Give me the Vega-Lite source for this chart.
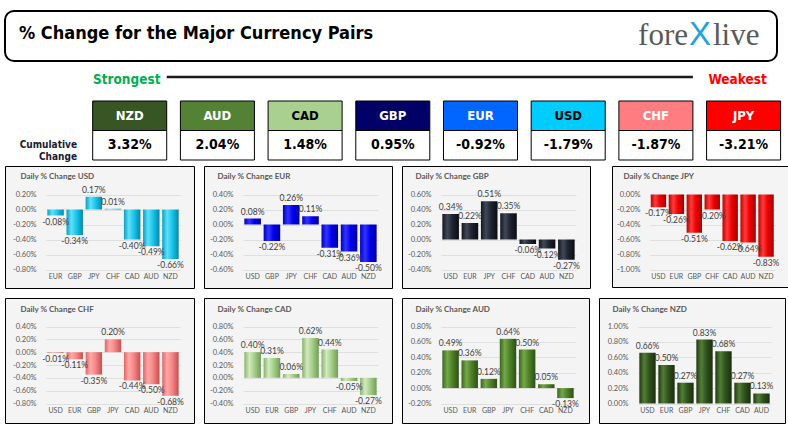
{
  "$schema": "https://vega.github.io/schema/vega-lite/v6.json",
  "background": "white",
  "padding": {"left": 4, "top": 10, "right": 2, "bottom": 2},
  "config": {
    "view": {"stroke": null},
    "locale": {"number": {"decimal": ".", "thousands": ",", "grouping": [3], "currency": ["$", ""], "minus": "-"}},
    "axis": {"labelFont": "Lato", "labelColor": "#595959", "labelFontSize": 7.5, "gridColor": "#d9d9d9", "gridWidth": 0.8, "domain": false, "ticks": false, "titleFont": "Lato", "titleFontSize": 8, "titleFontWeight": "bold", "titleColor": "#595959"}
  },
  "datasets": {
    "cum": [
      {"cur": "NZD", "v": 0.0332},
      {"cur": "AUD", "v": 0.0204},
      {"cur": "CAD", "v": 0.0148},
      {"cur": "GBP", "v": 0.0095},
      {"cur": "EUR", "v": -0.0092},
      {"cur": "USD", "v": -0.0179},
      {"cur": "CHF", "v": -0.0187},
      {"cur": "JPY", "v": -0.0321}
    ],
    "daily": [
      {"base": "USD", "cur": "EUR", "v": -0.0008},
      {"base": "USD", "cur": "GBP", "v": -0.0034},
      {"base": "USD", "cur": "JPY", "v": 0.0017},
      {"base": "USD", "cur": "CHF", "v": 0.0001},
      {"base": "USD", "cur": "CAD", "v": -0.0040},
      {"base": "USD", "cur": "AUD", "v": -0.0049},
      {"base": "USD", "cur": "NZD", "v": -0.0066},
      {"base": "EUR", "cur": "USD", "v": 0.0008},
      {"base": "EUR", "cur": "GBP", "v": -0.0022},
      {"base": "EUR", "cur": "JPY", "v": 0.0026},
      {"base": "EUR", "cur": "CHF", "v": 0.0011},
      {"base": "EUR", "cur": "CAD", "v": -0.0031},
      {"base": "EUR", "cur": "AUD", "v": -0.0036},
      {"base": "EUR", "cur": "NZD", "v": -0.0050},
      {"base": "GBP", "cur": "USD", "v": 0.0034},
      {"base": "GBP", "cur": "EUR", "v": 0.0022},
      {"base": "GBP", "cur": "JPY", "v": 0.0051},
      {"base": "GBP", "cur": "CHF", "v": 0.0035},
      {"base": "GBP", "cur": "CAD", "v": -0.0006},
      {"base": "GBP", "cur": "AUD", "v": -0.0012},
      {"base": "GBP", "cur": "NZD", "v": -0.0027},
      {"base": "JPY", "cur": "USD", "v": -0.0017},
      {"base": "JPY", "cur": "EUR", "v": -0.0026},
      {"base": "JPY", "cur": "GBP", "v": -0.0051},
      {"base": "JPY", "cur": "CHF", "v": -0.0020},
      {"base": "JPY", "cur": "CAD", "v": -0.0062},
      {"base": "JPY", "cur": "AUD", "v": -0.0064},
      {"base": "JPY", "cur": "NZD", "v": -0.0083},
      {"base": "CHF", "cur": "USD", "v": -0.0001},
      {"base": "CHF", "cur": "EUR", "v": -0.0011},
      {"base": "CHF", "cur": "GBP", "v": -0.0035},
      {"base": "CHF", "cur": "JPY", "v": 0.0020},
      {"base": "CHF", "cur": "CAD", "v": -0.0044},
      {"base": "CHF", "cur": "AUD", "v": -0.0050},
      {"base": "CHF", "cur": "NZD", "v": -0.0068},
      {"base": "CAD", "cur": "USD", "v": 0.0040},
      {"base": "CAD", "cur": "EUR", "v": 0.0031},
      {"base": "CAD", "cur": "GBP", "v": 0.0006},
      {"base": "CAD", "cur": "JPY", "v": 0.0062},
      {"base": "CAD", "cur": "CHF", "v": 0.0044},
      {"base": "CAD", "cur": "AUD", "v": -0.0005},
      {"base": "CAD", "cur": "NZD", "v": -0.0027},
      {"base": "AUD", "cur": "USD", "v": 0.0049},
      {"base": "AUD", "cur": "EUR", "v": 0.0036},
      {"base": "AUD", "cur": "GBP", "v": 0.0012},
      {"base": "AUD", "cur": "JPY", "v": 0.0064},
      {"base": "AUD", "cur": "CHF", "v": 0.0050},
      {"base": "AUD", "cur": "CAD", "v": 0.0005},
      {"base": "AUD", "cur": "NZD", "v": -0.0013},
      {"base": "NZD", "cur": "USD", "v": 0.0066},
      {"base": "NZD", "cur": "EUR", "v": 0.0050},
      {"base": "NZD", "cur": "GBP", "v": 0.0027},
      {"base": "NZD", "cur": "JPY", "v": 0.0083},
      {"base": "NZD", "cur": "CHF", "v": 0.0068},
      {"base": "NZD", "cur": "CAD", "v": 0.0027},
      {"base": "NZD", "cur": "AUD", "v": 0.0013}
    ]
  },
  "spacing": 6,
  "resolve": {"scale": {"x": "independent", "y": "independent", "color": "independent", "fill": "independent"}},
  "vconcat": [
    {
      "width": 772,
      "height": 50,
      "view": {"stroke": "#000", "strokeWidth": 2, "cornerRadius": 9, "fill": "#ffffff"},
      "data": {"values": [
        {"part": "title", "label": "% Change for the Major Currency Pairs"},
        {"part": "logo", "label": "fore"},
        {"part": "logo", "label": "X"},
        {"part": "logo", "label": "live"}
      ]},
      "encoding": {
        "x": {"field": "part", "type": "nominal", "scale": {"type": "point", "domain": ["title", "logo"], "padding": 0}, "axis": null},
        "text": {"field": "label"}
      },
      "layer": [
        {"transform": [{"filter": "datum.part === 'title'"}], "mark": {"type": "text", "align": "left", "baseline": "middle", "dx": 14, "dy": -2, "font": "DejaVu Sans Condensed", "fontWeight": "bold", "fontSize": 18, "fill": "#000"}},
        {"transform": [{"filter": "datum.label === 'fore'"}], "mark": {"type": "text", "align": "right", "baseline": "alphabetic", "dx": -89, "dy": 9, "font": "Liberation Serif", "fontSize": 31, "fill": "#58595b"}},
        {"transform": [{"filter": "datum.label === 'X'"}], "mark": {"type": "text", "align": "center", "baseline": "alphabetic", "dx": -77, "dy": 9, "font": "Liberation Sans", "fontSize": 33, "fill": "#1fa3dd"}},
        {"transform": [{"filter": "datum.label === 'live'"}], "mark": {"type": "text", "align": "left", "baseline": "alphabetic", "dx": -64, "dy": 9, "font": "Liberation Serif", "fontSize": 31, "fill": "#58595b"}}
      ]
    },
    {
      "width": 775.6,
      "height": 26,
      "encoding": {
        "x": {"field": "cur", "type": "nominal", "sort": null, "scale": {"type": "band", "domain": ["Cumulative Change", "NZD", "AUD", "CAD", "GBP", "EUR", "USD", "CHF", "JPY"], "paddingInner": 0.156, "paddingOuter": 0}, "axis": null}
      },
      "layer": [
        {
          "data": {"values": [{"cur": "NZD"}, {"cur": "CHF"}]},
          "mark": {"type": "line", "stroke": "#1a1a1a", "strokeWidth": 2.5, "yOffset": -4},
          "encoding": {"x": {"field": "cur", "type": "nominal", "bandPosition": 1}}
        },
        {
          "data": {"values": [{"cur": "NZD", "label": "Strongest"}]},
          "mark": {"type": "text", "baseline": "middle", "dx": -3, "dy": -1, "font": "DejaVu Sans Condensed", "fontWeight": "bold", "fontSize": 13.5, "fill": "#00b050"},
          "encoding": {"text": {"field": "label"}}
        },
        {
          "data": {"values": [{"cur": "JPY", "label": "Weakest"}]},
          "mark": {"type": "text", "baseline": "middle", "dx": -6, "dy": -1, "font": "DejaVu Sans Condensed", "fontWeight": "bold", "fontSize": 13.5, "fill": "#ff0000"},
          "encoding": {"text": {"field": "label"}}
        }
      ]
    },
    {
      "spacing": 2,
      "resolve": {"scale": {"x": "independent", "y": "independent", "fill": "independent"}},
      "vconcat": [
        {
          "width": 775.6,
          "height": 59,
          "data": {"name": "cum"},
          "encoding": {
            "x": {"field": "cur", "type": "nominal", "sort": null, "scale": {"type": "band", "domain": ["Cumulative Change", "NZD", "AUD", "CAD", "GBP", "EUR", "USD", "CHF", "JPY"], "paddingInner": 0.156, "paddingOuter": 0}, "axis": null}
          },
          "layer": [
            {
              "mark": {"type": "rect", "stroke": "#000", "strokeWidth": 1},
              "encoding": {
                "y": {"datum": "name", "type": "nominal", "scale": {"type": "band", "domain": ["name", "value"], "paddingInner": 0, "paddingOuter": 0}, "axis": null},
                "fill": {"field": "cur", "type": "nominal", "scale": {"domain": ["NZD", "AUD", "CAD", "GBP", "EUR", "USD", "CHF", "JPY"], "range": ["#375623", "#548235", "#a9d08e", "#000066", "#0066ff", "#00ccff", "#ff7c80", "#ff0000"]}, "legend": null}
              }
            },
            {
              "mark": {"type": "rect", "fill": "#ffffff", "stroke": "#000", "strokeWidth": 1},
              "encoding": {"y": {"datum": "value", "type": "nominal"}}
            },
            {
              "mark": {"type": "text", "baseline": "middle", "font": "DejaVu Sans Condensed", "fontWeight": "bold", "fontSize": 13},
              "encoding": {
                "y": {"datum": "name", "type": "nominal"},
                "text": {"field": "cur"},
                "color": {"condition": {"test": "datum.cur === 'CAD' || datum.cur === 'USD'", "value": "#000000"}, "value": "#ffffff"}
              }
            },
            {
              "mark": {"type": "text", "baseline": "middle", "font": "DejaVu Sans Condensed", "fontWeight": "bold", "fontSize": 14, "fill": "#000"},
              "encoding": {
                "y": {"datum": "value", "type": "nominal"},
                "text": {"field": "v", "format": ".2%"}
              }
            },
            {
              "data": {"values": [{"cur": "Cumulative Change"}]},
              "mark": {"type": "text", "align": "right", "baseline": "middle", "lineBreak": " ", "lineHeight": 12, "dx": -2, "font": "DejaVu Sans Condensed", "fontWeight": "bold", "fontSize": 10, "fill": "#1a1a33"},
              "encoding": {
                "x": {"field": "cur", "type": "nominal", "bandPosition": 1},
                "y": {"datum": "value", "type": "nominal"},
                "text": {"field": "cur"}
              }
            }
          ]
        },
        {
          "spacing": 8,
          "resolve": {"scale": {"x": "independent", "y": "independent"}},
          "vconcat": [
            {
              "spacing": 20,
              "resolve": {"scale": {"x": "independent", "y": "independent"}},
              "hconcat": [
                {
                  "spacing": 8,
                  "resolve": {"scale": {"x": "independent", "y": "independent"}},
                  "hconcat": [
                    {
                      "width": 189, "height": 122,
                      "view": {"stroke": "#000", "strokeWidth": 1, "fill": "#f4f4f4"},
                      "data": {"name": "daily"},
                      "transform": [{"filter": "datum.base === 'USD'"}],
                      "encoding": {
                        "x": {"field": "cur", "type": "nominal", "sort": null, "scale": {"type": "band", "domain": ["EUR", "GBP", "JPY", "CHF", "CAD", "AUD", "NZD"], "range": [41, 175], "paddingInner": 0.14, "paddingOuter": 0.07}, "axis": {"orient": "bottom", "offset": -18.5, "labelAngle": 0, "labelPadding": 3, "labelFontSize": 7, "grid": false, "title": null}},
                        "y": {"field": "v", "type": "quantitative", "scale": {"domain": [-0.008, 0.002], "range": [103.5, 28.5], "nice": false, "zero": false}, "axis": {"orient": "left", "offset": -33, "values": [-0.008, -0.006, -0.004, -0.002, 0, 0.002], "format": ".2%", "labelPadding": 2, "grid": true, "title": "Daily % Change USD", "titleAngle": 0, "titleAlign": "left", "titleBaseline": "middle", "titleX": -18, "titleY": 10}}
                      },
                      "layer": [
                        {"mark": {"type": "bar", "fill": {"gradient": "linear", "x1": 0, "y1": 0, "x2": 1, "y2": 0, "stops": [{"offset": 0, "color": "#0b9fc2"}, {"offset": 0.3, "color": "#5fe0fa"}, {"offset": 0.6, "color": "#18c6ec"}, {"offset": 1, "color": "#0a86a8"}]}}, "encoding": {"y2": {"datum": 0}}},
                        {"transform": [{"filter": "datum.v >= 0"}], "mark": {"type": "text", "baseline": "bottom", "dy": -2, "font": "Lato", "fontSize": 8.5, "fill": "#404040"}, "encoding": {"text": {"field": "v", "format": ".2%"}}},
                        {"transform": [{"filter": "datum.v < 0"}], "mark": {"type": "text", "baseline": "top", "dy": 2, "font": "Lato", "fontSize": 8.5, "fill": "#404040"}, "encoding": {"text": {"field": "v", "format": ".2%"}}}
                      ]
                    },
                    {
                      "width": 188, "height": 122,
                      "view": {"stroke": "#000", "strokeWidth": 1, "fill": "#f4f4f4"},
                      "data": {"name": "daily"},
                      "transform": [{"filter": "datum.base === 'EUR'"}],
                      "encoding": {
                        "x": {"field": "cur", "type": "nominal", "sort": null, "scale": {"type": "band", "domain": ["USD", "GBP", "JPY", "CHF", "CAD", "AUD", "NZD"], "range": [39, 174], "paddingInner": 0.14, "paddingOuter": 0.07}, "axis": {"orient": "bottom", "offset": -18.5, "labelAngle": 0, "labelPadding": 3, "labelFontSize": 7, "grid": false, "title": null}},
                        "y": {"field": "v", "type": "quantitative", "scale": {"domain": [-0.006, 0.004], "range": [103.5, 28.5], "nice": false, "zero": false}, "axis": {"orient": "left", "offset": -31, "values": [-0.006, -0.004, -0.002, 0, 0.002, 0.004], "format": ".2%", "labelPadding": 2, "grid": true, "title": "Daily % Change EUR", "titleAngle": 0, "titleAlign": "left", "titleBaseline": "middle", "titleX": -18, "titleY": 10}}
                      },
                      "layer": [
                        {"mark": {"type": "bar", "fill": {"gradient": "linear", "x1": 0, "y1": 0, "x2": 1, "y2": 0, "stops": [{"offset": 0, "color": "#0000c0"}, {"offset": 0.3, "color": "#3333ff"}, {"offset": 0.6, "color": "#0000ee"}, {"offset": 1, "color": "#00009a"}]}}, "encoding": {"y2": {"datum": 0}}},
                        {"transform": [{"filter": "datum.v >= 0"}], "mark": {"type": "text", "baseline": "bottom", "dy": -2, "font": "Lato", "fontSize": 8.5, "fill": "#404040"}, "encoding": {"text": {"field": "v", "format": ".2%"}}},
                        {"transform": [{"filter": "datum.v < 0"}], "mark": {"type": "text", "baseline": "top", "dy": 2, "font": "Lato", "fontSize": 8.5, "fill": "#404040"}, "encoding": {"text": {"field": "v", "format": ".2%"}}}
                      ]
                    },
                    {
                      "width": 188, "height": 122,
                      "view": {"stroke": "#000", "strokeWidth": 1, "fill": "#f4f4f4"},
                      "data": {"name": "daily"},
                      "transform": [{"filter": "datum.base === 'GBP'"}],
                      "encoding": {
                        "x": {"field": "cur", "type": "nominal", "sort": null, "scale": {"type": "band", "domain": ["USD", "EUR", "JPY", "CHF", "CAD", "AUD", "NZD"], "range": [39, 174], "paddingInner": 0.14, "paddingOuter": 0.07}, "axis": {"orient": "bottom", "offset": -18.5, "labelAngle": 0, "labelPadding": 3, "labelFontSize": 7, "grid": false, "title": null}},
                        "y": {"field": "v", "type": "quantitative", "scale": {"domain": [-0.004, 0.006], "range": [103.5, 28.5], "nice": false, "zero": false}, "axis": {"orient": "left", "offset": -31, "values": [-0.004, -0.002, 0, 0.002, 0.004, 0.006], "format": ".2%", "labelPadding": 2, "grid": true, "title": "Daily % Change GBP", "titleAngle": 0, "titleAlign": "left", "titleBaseline": "middle", "titleX": -18, "titleY": 10}}
                      },
                      "layer": [
                        {"mark": {"type": "bar", "fill": {"gradient": "linear", "x1": 0, "y1": 0, "x2": 1, "y2": 0, "stops": [{"offset": 0, "color": "#12161f"}, {"offset": 0.3, "color": "#414857"}, {"offset": 0.6, "color": "#1f2431"}, {"offset": 1, "color": "#0b0d14"}]}}, "encoding": {"y2": {"datum": 0}}},
                        {"transform": [{"filter": "datum.v >= 0"}], "mark": {"type": "text", "baseline": "bottom", "dy": -2, "font": "Lato", "fontSize": 8.5, "fill": "#404040"}, "encoding": {"text": {"field": "v", "format": ".2%"}}},
                        {"transform": [{"filter": "datum.v < 0"}], "mark": {"type": "text", "baseline": "top", "dy": 2, "font": "Lato", "fontSize": 8.5, "fill": "#404040"}, "encoding": {"text": {"field": "v", "format": ".2%"}}}
                      ]
                    }
                  ]
                },
                {
                  "width": 176, "height": 121,
                  "view": {"stroke": "#000", "strokeWidth": 1, "fill": "#f4f4f4"},
                  "data": {"name": "daily"},
                  "transform": [{"filter": "datum.base === 'JPY'"}],
                  "encoding": {
                    "x": {"field": "cur", "type": "nominal", "sort": null, "scale": {"type": "band", "domain": ["USD", "EUR", "GBP", "CHF", "CAD", "AUD", "NZD"], "range": [37.5, 163], "paddingInner": 0.14, "paddingOuter": 0.07}, "axis": {"orient": "bottom", "offset": -17.5, "labelAngle": 0, "labelPadding": 3, "labelFontSize": 7, "grid": false, "title": null}},
                    "y": {"field": "v", "type": "quantitative", "scale": {"domain": [-0.010, 0], "range": [103.5, 28.5], "nice": false, "zero": false}, "axis": {"orient": "left", "offset": -30, "values": [-0.010, -0.008, -0.006, -0.004, -0.002, 0], "format": ".2%", "labelPadding": 2, "grid": true, "title": "Daily % Change JPY", "titleAngle": 0, "titleAlign": "left", "titleBaseline": "middle", "titleX": -19, "titleY": 10}}
                  },
                  "layer": [
                    {"mark": {"type": "bar", "fill": {"gradient": "linear", "x1": 0, "y1": 0, "x2": 1, "y2": 0, "stops": [{"offset": 0, "color": "#c00000"}, {"offset": 0.3, "color": "#ff3b3b"}, {"offset": 0.6, "color": "#f00000"}, {"offset": 1, "color": "#9c0000"}]}}, "encoding": {"y2": {"datum": 0}}},
                    {"transform": [{"filter": "datum.v >= 0"}], "mark": {"type": "text", "baseline": "bottom", "dy": -2, "font": "Lato", "fontSize": 8.5, "fill": "#404040"}, "encoding": {"text": {"field": "v", "format": ".2%"}}},
                    {"transform": [{"filter": "datum.v < 0"}], "mark": {"type": "text", "baseline": "top", "dy": 2, "font": "Lato", "fontSize": 8.5, "fill": "#404040"}, "encoding": {"text": {"field": "v", "format": ".2%"}}}
                  ]
                }
              ]
            },
            {
              "spacing": 8,
              "resolve": {"scale": {"x": "independent", "y": "independent"}},
              "hconcat": [
                {
                  "width": 189, "height": 125,
                  "view": {"stroke": "#000", "strokeWidth": 1, "fill": "#f4f4f4"},
                  "data": {"name": "daily"},
                  "transform": [{"filter": "datum.base === 'CHF'"}],
                  "encoding": {
                    "x": {"field": "cur", "type": "nominal", "sort": null, "scale": {"type": "band", "domain": ["USD", "EUR", "GBP", "JPY", "CAD", "AUD", "NZD"], "range": [41, 175], "paddingInner": 0.14, "paddingOuter": 0.07}, "axis": {"orient": "bottom", "offset": -19.5, "labelAngle": 0, "labelPadding": 3, "labelFontSize": 7, "grid": false, "title": null}},
                    "y": {"field": "v", "type": "quantitative", "scale": {"domain": [-0.008, 0.004], "range": [105.5, 28.5], "nice": false, "zero": false}, "axis": {"orient": "left", "offset": -33, "values": [-0.008, -0.006, -0.004, -0.002, 0, 0.002, 0.004], "format": ".2%", "labelPadding": 2, "grid": true, "title": "Daily % Change CHF", "titleAngle": 0, "titleAlign": "left", "titleBaseline": "middle", "titleX": -18, "titleY": 11}}
                  },
                  "layer": [
                    {"mark": {"type": "bar", "fill": {"gradient": "linear", "x1": 0, "y1": 0, "x2": 1, "y2": 0, "stops": [{"offset": 0, "color": "#e06666"}, {"offset": 0.3, "color": "#ffa8a8"}, {"offset": 0.6, "color": "#f78686"}, {"offset": 1, "color": "#c45050"}]}}, "encoding": {"y2": {"datum": 0}}},
                    {"transform": [{"filter": "datum.v >= 0"}], "mark": {"type": "text", "baseline": "bottom", "dy": -2, "font": "Lato", "fontSize": 8.5, "fill": "#404040"}, "encoding": {"text": {"field": "v", "format": ".2%"}}},
                    {"transform": [{"filter": "datum.v < 0"}], "mark": {"type": "text", "baseline": "top", "dy": 2, "font": "Lato", "fontSize": 8.5, "fill": "#404040"}, "encoding": {"text": {"field": "v", "format": ".2%"}}}
                  ]
                },
                {
                  "width": 188, "height": 125,
                  "view": {"stroke": "#000", "strokeWidth": 1, "fill": "#f4f4f4"},
                  "data": {"name": "daily"},
                  "transform": [{"filter": "datum.base === 'CAD'"}],
                  "encoding": {
                    "x": {"field": "cur", "type": "nominal", "sort": null, "scale": {"type": "band", "domain": ["USD", "EUR", "GBP", "JPY", "CHF", "AUD", "NZD"], "range": [39, 174], "paddingInner": 0.14, "paddingOuter": 0.07}, "axis": {"orient": "bottom", "offset": -19.5, "labelAngle": 0, "labelPadding": 3, "labelFontSize": 7, "grid": false, "title": null}},
                    "y": {"field": "v", "type": "quantitative", "scale": {"domain": [-0.004, 0.008], "range": [105.5, 28.5], "nice": false, "zero": false}, "axis": {"orient": "left", "offset": -31, "values": [-0.004, -0.002, 0, 0.002, 0.004, 0.006, 0.008], "format": ".2%", "labelPadding": 2, "grid": true, "title": "Daily % Change CAD", "titleAngle": 0, "titleAlign": "left", "titleBaseline": "middle", "titleX": -18, "titleY": 11}}
                  },
                  "layer": [
                    {"mark": {"type": "bar", "fill": {"gradient": "linear", "x1": 0, "y1": 0, "x2": 1, "y2": 0, "stops": [{"offset": 0, "color": "#88b36c"}, {"offset": 0.3, "color": "#d2eabf"}, {"offset": 0.6, "color": "#a6cf8a"}, {"offset": 1, "color": "#739c58"}]}}, "encoding": {"y2": {"datum": 0}}},
                    {"transform": [{"filter": "datum.v >= 0"}], "mark": {"type": "text", "baseline": "bottom", "dy": -2, "font": "Lato", "fontSize": 8.5, "fill": "#404040"}, "encoding": {"text": {"field": "v", "format": ".2%"}}},
                    {"transform": [{"filter": "datum.v < 0"}], "mark": {"type": "text", "baseline": "top", "dy": 2, "font": "Lato", "fontSize": 8.5, "fill": "#404040"}, "encoding": {"text": {"field": "v", "format": ".2%"}}}
                  ]
                },
                {
                  "width": 187, "height": 125,
                  "view": {"stroke": "#000", "strokeWidth": 1, "fill": "#f4f4f4"},
                  "data": {"name": "daily"},
                  "transform": [{"filter": "datum.base === 'AUD'"}],
                  "encoding": {
                    "x": {"field": "cur", "type": "nominal", "sort": null, "scale": {"type": "band", "domain": ["USD", "EUR", "GBP", "JPY", "CHF", "CAD", "NZD"], "range": [39, 173], "paddingInner": 0.14, "paddingOuter": 0.07}, "axis": {"orient": "bottom", "offset": -19.5, "labelAngle": 0, "labelPadding": 3, "labelFontSize": 7, "grid": false, "title": null}},
                    "y": {"field": "v", "type": "quantitative", "scale": {"domain": [-0.002, 0.008], "range": [105.5, 28.5], "nice": false, "zero": false}, "axis": {"orient": "left", "offset": -31, "values": [-0.002, 0, 0.002, 0.004, 0.006, 0.008], "format": ".2%", "labelPadding": 2, "grid": true, "title": "Daily % Change AUD", "titleAngle": 0, "titleAlign": "left", "titleBaseline": "middle", "titleX": -18, "titleY": 11}}
                  },
                  "layer": [
                    {"mark": {"type": "bar", "fill": {"gradient": "linear", "x1": 0, "y1": 0, "x2": 1, "y2": 0, "stops": [{"offset": 0, "color": "#3b661d"}, {"offset": 0.3, "color": "#74a84a"}, {"offset": 0.6, "color": "#4f8228"}, {"offset": 1, "color": "#2c5015"}]}}, "encoding": {"y2": {"datum": 0}}},
                    {"transform": [{"filter": "datum.v >= 0"}], "mark": {"type": "text", "baseline": "bottom", "dy": -2, "font": "Lato", "fontSize": 8.5, "fill": "#404040"}, "encoding": {"text": {"field": "v", "format": ".2%"}}},
                    {"transform": [{"filter": "datum.v < 0"}], "mark": {"type": "text", "baseline": "top", "dy": 2, "font": "Lato", "fontSize": 8.5, "fill": "#404040"}, "encoding": {"text": {"field": "v", "format": ".2%"}}}
                  ]
                },
                {
                  "width": 186, "height": 125,
                  "view": {"stroke": "#000", "strokeWidth": 1, "fill": "#f4f4f4"},
                  "data": {"name": "daily"},
                  "transform": [{"filter": "datum.base === 'NZD'"}],
                  "encoding": {
                    "x": {"field": "cur", "type": "nominal", "sort": null, "scale": {"type": "band", "domain": ["USD", "EUR", "GBP", "JPY", "CHF", "CAD", "AUD"], "range": [39, 172], "paddingInner": 0.14, "paddingOuter": 0.07}, "axis": {"orient": "bottom", "offset": -19.5, "labelAngle": 0, "labelPadding": 3, "labelFontSize": 7, "grid": false, "title": null}},
                    "y": {"field": "v", "type": "quantitative", "scale": {"domain": [0, 0.010], "range": [105.5, 28.5], "nice": false, "zero": false}, "axis": {"orient": "left", "offset": -31, "values": [0, 0.002, 0.004, 0.006, 0.008, 0.010], "format": ".2%", "labelPadding": 2, "grid": true, "title": "Daily % Change NZD", "titleAngle": 0, "titleAlign": "left", "titleBaseline": "middle", "titleX": -18, "titleY": 11}}
                  },
                  "layer": [
                    {"mark": {"type": "bar", "fill": {"gradient": "linear", "x1": 0, "y1": 0, "x2": 1, "y2": 0, "stops": [{"offset": 0, "color": "#213911"}, {"offset": 0.3, "color": "#527e36"}, {"offset": 0.6, "color": "#30531f"}, {"offset": 1, "color": "#1a2e0d"}]}}, "encoding": {"y2": {"datum": 0}}},
                    {"transform": [{"filter": "datum.v >= 0"}], "mark": {"type": "text", "baseline": "bottom", "dy": -2, "font": "Lato", "fontSize": 8.5, "fill": "#404040"}, "encoding": {"text": {"field": "v", "format": ".2%"}}},
                    {"transform": [{"filter": "datum.v < 0"}], "mark": {"type": "text", "baseline": "top", "dy": 2, "font": "Lato", "fontSize": 8.5, "fill": "#404040"}, "encoding": {"text": {"field": "v", "format": ".2%"}}}
                  ]
                }
              ]
            }
          ]
        }
      ]
    }
  ]
}
